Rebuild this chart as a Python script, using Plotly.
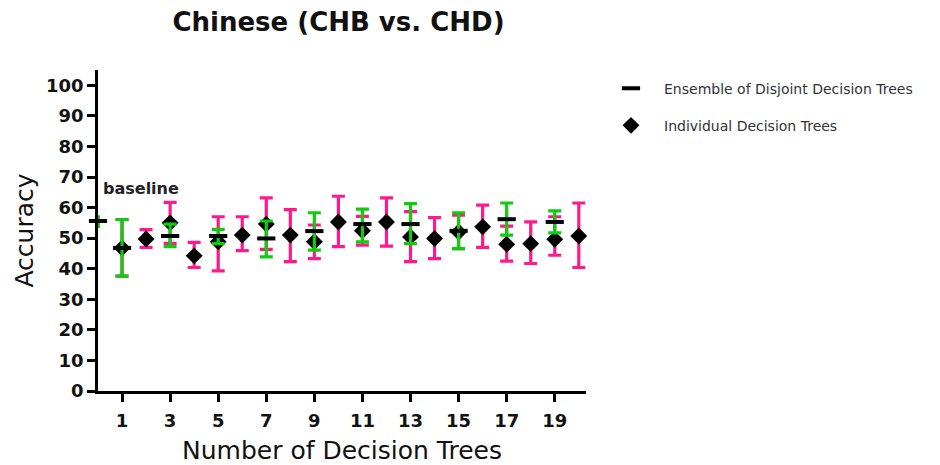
import plotly.graph_objects as go

# Individual decision trees (mean, lower, upper)
ind_x = list(range(1, 21))
ind_mean = [46.8, 49.7, 55.0, 44.2, 48.8, 51.0, 54.6, 51.0, 48.8, 55.3,
            52.4, 55.3, 50.4, 49.9, 52.0, 53.7, 48.0, 48.2, 49.6, 50.7]
ind_lo = [37.6, 47.0, 48.3, 40.4, 39.3, 45.9, 46.3, 42.3, 43.3, 47.2,
          47.7, 47.4, 42.3, 43.3, 46.6, 47.0, 42.5, 41.7, 44.4, 40.4]
ind_hi = [56.1, 52.8, 61.7, 48.6, 57.0, 57.0, 63.2, 59.3, 54.3, 63.7,
          57.1, 63.2, 58.7, 56.7, 57.5, 60.8, 53.9, 55.3, 57.0, 61.5]

# Ensemble of disjoint decision trees (odd numbers of trees)
ens_x = [1, 3, 5, 7, 9, 11, 13, 15, 17, 19]
ens_mean = [46.8, 50.7, 50.7, 49.9, 52.3, 54.6, 54.6, 52.4, 56.2, 55.3]
ens_lo = [37.6, 47.2, 48.2, 43.9, 46.1, 48.8, 48.2, 46.6, 51.0, 51.7]
ens_hi = [56.1, 54.6, 52.9, 55.6, 58.3, 59.5, 61.3, 58.3, 61.5, 58.9]

# Baseline
base_x = [0]
base_mean = [55.6]
base_lo = [53.3]
base_hi = [57.5]

x_ticks = [1, 3, 5, 7, 9, 11, 13, 15, 17, 19]
y_ticks = [0, 10, 20, 30, 40, 50, 60, 70, 80, 90, 100]

PINK = "#ff1a8c"
GREEN = "#0fcc0f"
FONT = "DejaVu Sans"

def plus(m, h):
    return [b - a for a, b in zip(m, h)]

def minus(m, l):
    return [a - b for a, b in zip(m, l)]

fig = go.Figure()

fig.add_trace(go.Scatter(
    x=ind_x, y=ind_mean, mode="markers", name="Individual Decision Trees",
    marker=dict(symbol="diamond", size=13, color="black"),
    error_y=dict(type="data", symmetric=False, array=plus(ind_mean, ind_hi),
                 arrayminus=minus(ind_mean, ind_lo), color=PINK, thickness=3.2, width=6.5),
    legendrank=2, legendgroup="ind", cliponaxis=False,
))

fig.add_trace(go.Scatter(
    x=ens_x, y=ens_mean, mode="markers", name="Ensemble of Disjoint Decision Trees",
    marker=dict(symbol="line-ew", size=13, color="black", line=dict(color="black", width=4)),
    error_y=dict(type="data", symmetric=False, array=plus(ens_mean, ens_hi),
                 arrayminus=minus(ens_mean, ens_lo), color=GREEN, thickness=3.2, width=6.5),
    legendrank=1, legendgroup="ens", cliponaxis=False,
))

fig.add_trace(go.Scatter(
    x=base_x, y=base_mean, mode="markers", showlegend=False,
    marker=dict(symbol="line-ew", size=13, color="black", line=dict(color="black", width=4)),
    error_y=dict(type="data", symmetric=False, array=plus(base_mean, base_hi),
                 arrayminus=minus(base_mean, base_lo), color=GREEN, thickness=4, width=0),
    cliponaxis=False,
))

fig.add_annotation(x=0.12, y=66.3, xref="x", yref="y", text="baseline", showarrow=False,
                   xanchor="left", yanchor="middle",
                   font=dict(family=FONT, size=16, color="#222222", weight="bold"))

fig.update_layout(
    width=940, height=465,
    margin=dict(l=98, r=354, t=70, b=74),
    plot_bgcolor="white", paper_bgcolor="white",
    title=dict(text="Chinese (CHB vs. CHD)", x=338.5 / 940, xanchor="center",
               y=1 - 22 / 465, yanchor="middle",
               font=dict(family=FONT, size=26, color="#111111", weight="bold")),
    xaxis=dict(range=[0, 20.3], tickvals=x_ticks, ticktext=[str(v) for v in x_ticks],
               showgrid=False, zeroline=False, showline=True, linecolor="black", linewidth=2.5,
               ticks="outside", ticklen=8, tickwidth=2.5, tickcolor="black",
               ticklabelstandoff=4, automargin=False,
               tickfont=dict(family=FONT, size=18, color="#111111", weight="bold"),
               title=dict(text="Number of Decision Trees", standoff=18,
                          font=dict(family=FONT, size=25, color="#111111"))),
    yaxis=dict(range=[0, 105], tickvals=y_ticks, ticktext=[str(v) for v in y_ticks],
               showgrid=False, zeroline=False, showline=True, linecolor="black", linewidth=2.5,
               ticks="outside", ticklen=8, tickwidth=2.5, tickcolor="black",
               automargin=False,
               tickfont=dict(family=FONT, size=18, color="#111111", weight="bold"),
               title=dict(text="Accuracy", standoff=6,
                          font=dict(family=FONT, size=25, color="#111111"))),
    legend=dict(x=1.0246, y=0.992, xanchor="left", yanchor="top", tracegroupgap=16,
                itemwidth=56,
                font=dict(family=FONT, size=14, color="#333333"), bgcolor="rgba(0,0,0,0)"),
    showlegend=True,
)

fig.write_html("out.html")
